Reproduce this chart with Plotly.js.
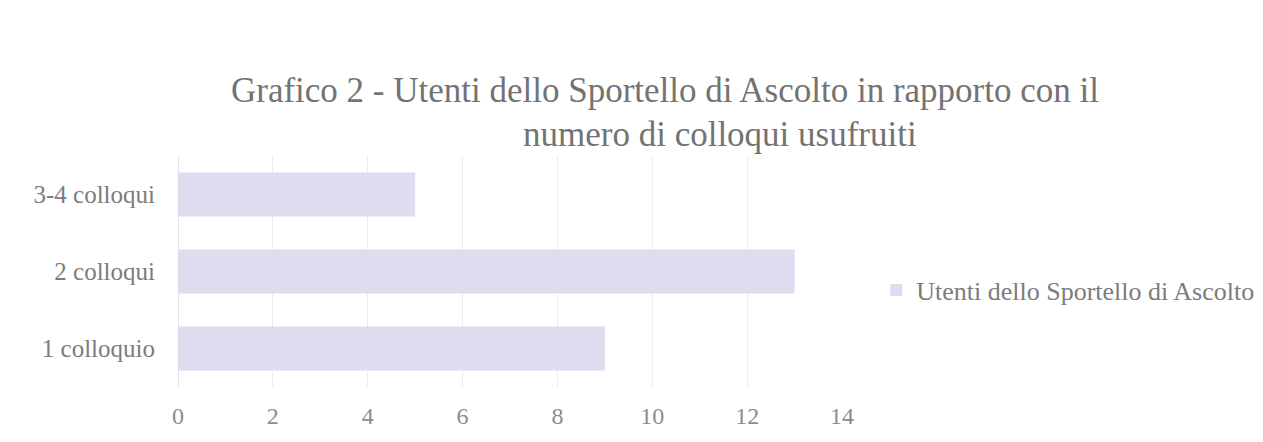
<!DOCTYPE html>
<html>
<head>
<meta charset="utf-8">
<script src="https://cdn.plot.ly/plotly-3.0.1.min.js"></script>
<style>html,body{margin:0;padding:0;background:#fff;}#chart{width:1263px;height:442px;}</style>
</head>
<body>
<div id="chart"></div>
<script>
const categories = ["1 colloquio", "2 colloqui", "3-4 colloqui"];
const values = [9, 13, 5];
const seriesName = "Utenti dello Sportello di Ascolto";
const titleLine1 = "Grafico 2 - Utenti dello Sportello di Ascolto in rapporto con il";
const titleLine2 = "numero di colloqui usufruiti";
const xTicks = [0, 2, 4, 6, 8, 10, 12, 14];

const serif = "Liberation Serif, DejaVu Serif, serif";

Plotly.newPlot("chart", [{
  type: "bar",
  orientation: "h",
  y: categories,
  x: values,
  name: seriesName,
  showlegend: true,
  marker: {color: "#dedcef"},
  hoverinfo: "x+y"
}], {
  width: 1263,
  height: 442,
  paper_bgcolor: "#ffffff",
  plot_bgcolor: "#ffffff",
  margin: {l: 178, r: 420, t: 156, b: 55, autoexpand: false},
  bargap: 0.43,
  title: {
    text: titleLine1,
    font: {family: serif, size: 35, color: "#737373"},
    xref: "container", x: 0.5265, xanchor: "center",
    yref: "container", y: 0.797, yanchor: "middle"
  },
  annotations: [{
    text: titleLine2,
    showarrow: false,
    font: {family: serif, size: 35, color: "#737373"},
    xref: "paper", x: 0.815, xanchor: "center",
    yref: "paper", y: 1.093, yanchor: "middle"
  }],
  xaxis: {
    range: [0, 14.02],
    tickvals: xTicks,
    showgrid: true,
    gridcolor: "#ececec",
    gridwidth: 1,
    zeroline: true,
    zerolinecolor: "#e6e6e6",
    showline: false,
    ticks: "",
    tickfont: {family: serif, size: 24, color: "#8c8c8c"},
    ticklabelstandoff: 12,
    fixedrange: true
  },
  yaxis: {
    showgrid: false,
    zeroline: false,
    showline: false,
    ticks: "",
    ticklabelstandoff: 22,
    tickfont: {family: serif, size: 25, color: "#7c7c7c"},
    fixedrange: true
  },
  legend: {
    x: 1.05, xanchor: "left",
    y: 0.42, yanchor: "middle",
    font: {family: serif, size: 26, color: "#7c7c7c"},
    bgcolor: "rgba(0,0,0,0)"
  },
  showlegend: true
}, {displayModeBar: false, staticPlot: true});
</script>
</body>
</html>
